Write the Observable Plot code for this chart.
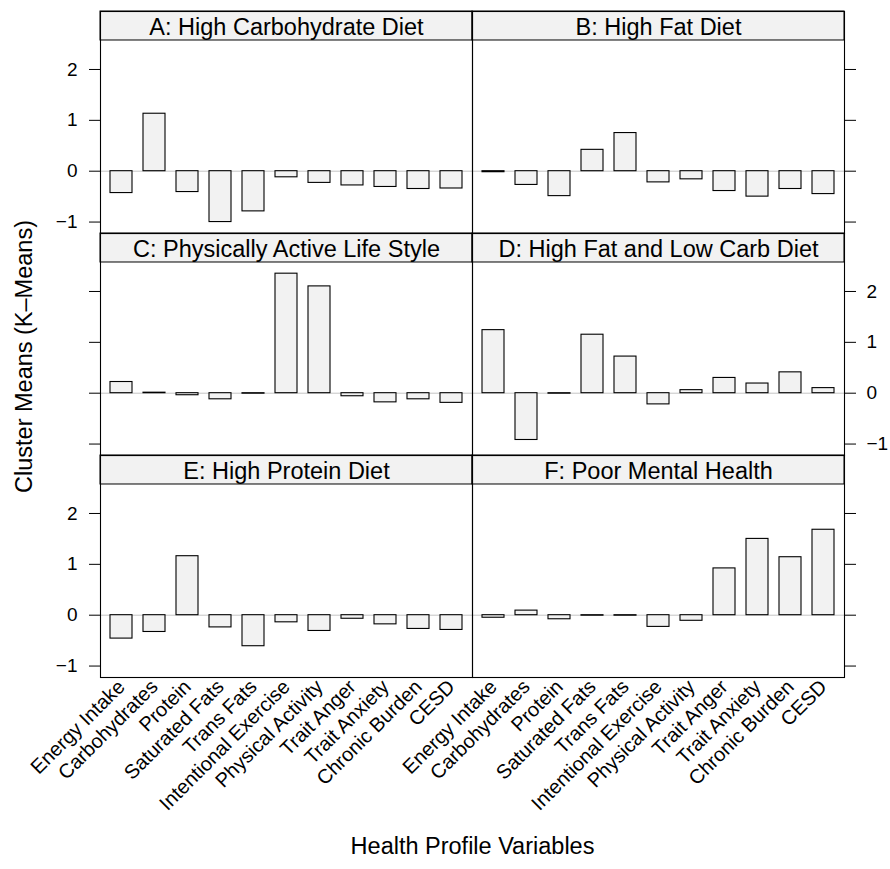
<!DOCTYPE html>
<html>
<head>
<meta charset="utf-8">
<script src="https://cdn.jsdelivr.net/npm/d3@7"></script>
<script src="https://cdn.jsdelivr.net/npm/@observablehq/plot@0.6"></script>
<style>
  html, body { margin: 0; padding: 0; background: white; }
</style>
</head>
<body>
<div id="chart"></div>
<script>
// ---- data ----
const variables = ["Energy Intake", "Carbohydrates", "Protein", "Saturated Fats", "Trans Fats",
  "Intentional Exercise", "Physical Activity", "Trait Anger", "Trait Anxiety", "Chronic Burden", "CESD"];

const panelLabels = ["A: High Carbohydrate Diet", "B: High Fat Diet", "C: Physically Active Life Style",
  "D: High Fat and Low Carb Diet", "E: High Protein Diet", "F: Poor Mental Health"];

const clusterA = [-0.43, 1.13, -0.41, -1.00, -0.79, -0.12, -0.23, -0.28, -0.31, -0.35, -0.34];
const clusterB = [-0.02, -0.27, -0.49, 0.42, 0.75, -0.22, -0.16, -0.39, -0.50, -0.35, -0.45];
const clusterC = [0.22, 0.01, -0.04, -0.12, -0.01, 2.35, 2.10, -0.06, -0.18, -0.12, -0.19];
const clusterD = [1.24, -0.92, -0.01, 1.15, 0.72, -0.22, 0.06, 0.30, 0.19, 0.41, 0.10];
const clusterE = [-0.46, -0.33, 1.16, -0.24, -0.61, -0.14, -0.31, -0.07, -0.18, -0.27, -0.29];
const clusterF = [-0.05, 0.09, -0.08, -0.01, -0.01, -0.23, -0.11, 0.92, 1.50, 1.14, 1.68];

const yTicks = [-1, 0, 1, 2];

const yLabel = "Cluster Means (K\u2013Means)";
const xLabel = "Health Profile Variables";

// ---- tables built from the arrays ----
const series = [clusterA, clusterB, clusterC, clusterD, clusterE, clusterF];
const panels = panelLabels.map((label, i) => ({label, col: i % 2, row: Math.floor(i / 2), idx: i}));
const bars = panels.flatMap(p => series[p.idx].map((value, j) => ({
  variable: variables[j], value, col: p.col, row: p.row
})));

// lattice-style alternating tick labels: left on rows 0 & 2, right on row 1
const leftLabeled = panels.filter(p => p.col === 0 && p.row !== 1);
const rightLabeled = panels.filter(p => p.col === 1 && p.row === 1);
const fmt = v => (v < 0 ? "\u2212" + Math.abs(v) : String(v));
const leftTickLabels = leftLabeled.flatMap(p => yTicks.map(v => ({v, col: p.col, row: p.row})));
const rightTickLabels = rightLabeled.flatMap(p => yTicks.map(v => ({v, col: p.col, row: p.row})));

// y extent of the panel area and of the strip above it (scale units)
const yMin = -1.225, stripBottom = 2.57, yMax = 3.14;

const chart = Plot.plot({
  width: 890,
  height: 869,
  marginTop: 11,
  marginBottom: 192,
  marginLeft: 100,
  marginRight: 46,
  style: {fontFamily: "'Liberation Sans', Arial, sans-serif", fontSize: "19px", background: "white", color: "black", overflow: "visible"},
  fx: {domain: [0, 1], padding: 0, axis: null},
  fy: {domain: [0, 1, 2], padding: 0, axis: null},
  x: {type: "band", domain: variables, paddingInner: 1 / 3, paddingOuter: 0.28, axis: null},
  y: {domain: [yMin, yMax], axis: null},
  marks: [
    // strips
    Plot.rect(panels, {fx: "col", fy: "row", y1: stripBottom, y2: yMax, fill: "#f2f2f2", stroke: "black", strokeWidth: 1}),
    Plot.text(panels, {fx: "col", fy: "row", y: (stripBottom + yMax) / 2, dy: 1.5, text: "label", fontSize: 23.5, fill: "black"}),
    // zero reference line
    Plot.ruleY([0], {stroke: "#c4c4c4", strokeWidth: 1}),
    // bars
    Plot.barY(bars, {x: "variable", y1: 0, y2: "value", fx: "col", fy: "row", fill: "#f2f2f2", stroke: "black", strokeWidth: 1.1}),
    // panel frames
    Plot.frame({stroke: "black", strokeWidth: 1.1}),
    // y tick marks
    Plot.axisY(yTicks, {anchor: "left", facetAnchor: "left", tickSize: 11, tickFormat: () => "", label: null, stroke: "black"}),
    Plot.axisY(yTicks, {anchor: "right", facetAnchor: "right", tickSize: 11, tickFormat: () => "", label: null, stroke: "black"}),
    // y tick labels
    Plot.text(leftTickLabels, {fx: "col", fy: "row", y: "v", text: d => fmt(d.v), frameAnchor: "left", textAnchor: "end", dx: -23, fontSize: 19, fill: "black"}),
    Plot.text(rightTickLabels, {fx: "col", fy: "row", y: "v", text: d => fmt(d.v), frameAnchor: "right", textAnchor: "start", dx: 22, fontSize: 19, fill: "black"}),
    // x tick labels
    Plot.axisX({facetAnchor: "bottom", tickRotate: -45, tickSize: 0, tickPadding: 6, fontSize: 20, label: null, fill: "black"}),
    // axis titles
    Plot.text([yLabel], {frameAnchor: "left", textAnchor: "middle", dx: -76, dy: 12, rotate: -90, facet: "super", fontSize: 23.5, fill: "black"}),
    Plot.text([xLabel], {frameAnchor: "bottom", textAnchor: "middle", dy: 176, facet: "super", fontSize: 23.5, fill: "black"})
  ]
});

document.getElementById("chart").appendChild(chart);
</script>
</body>
</html>
